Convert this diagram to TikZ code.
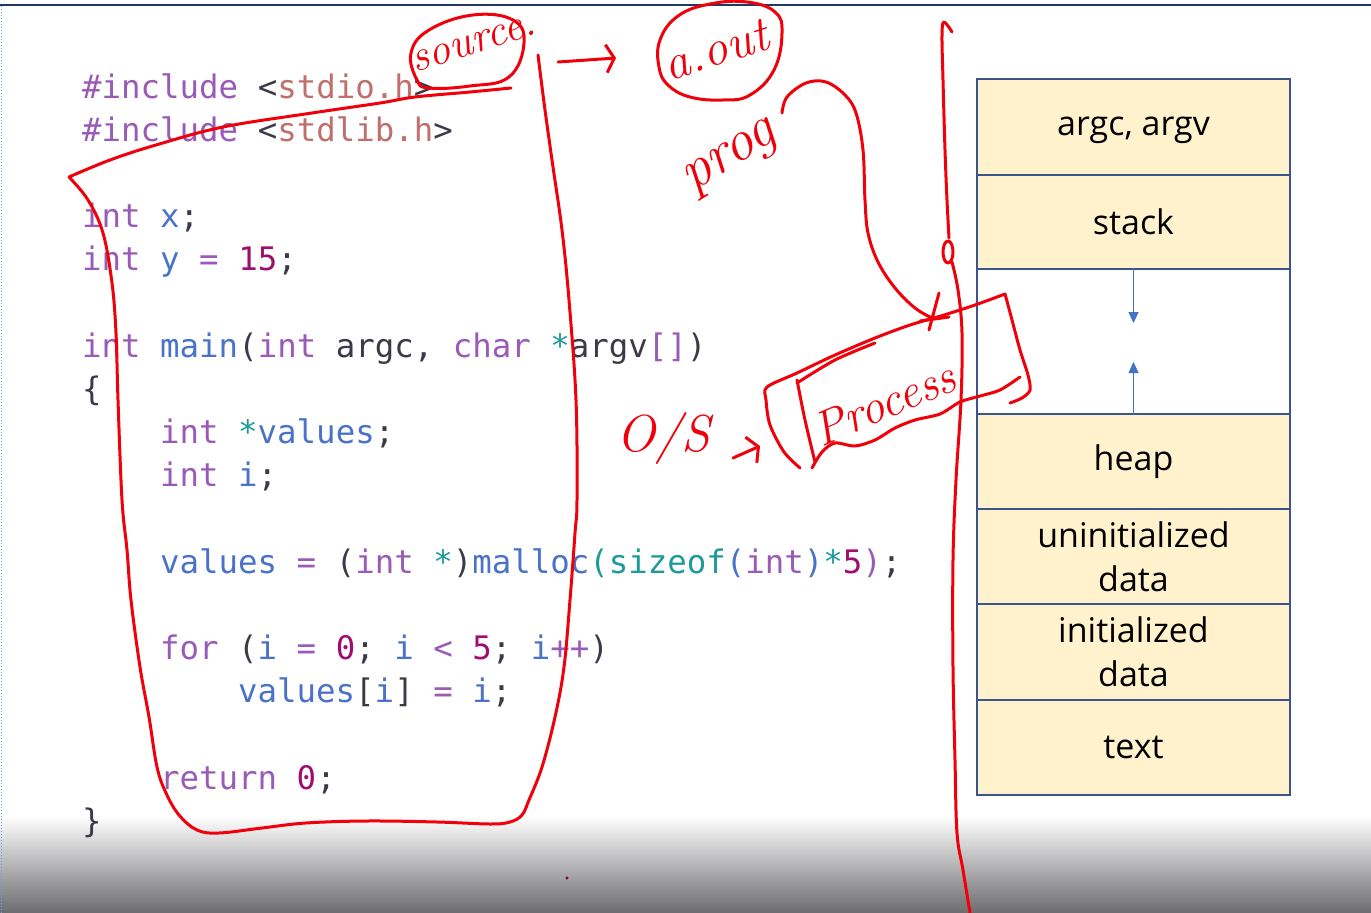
\documentclass[tikz,border=0pt]{standalone}
\usepackage{fontspec}
\setmonofont{DejaVu Sans Mono}
\setsansfont{Open Sans}
\usepackage{xcolor}
\usepackage{tikz}
\usetikzlibrary{arrows.meta}
\definecolor{topline}{HTML}{203864}
\definecolor{dotline}{HTML}{7A9CD6}
\definecolor{shadebot}{HTML}{6C6C70}
\definecolor{ckw}{HTML}{9A5AB8}
\definecolor{cid}{HTML}{4A72C8}
\definecolor{cnum}{HTML}{9E0E6E}
\definecolor{cop}{HTML}{1E9A9A}
\definecolor{cstr}{HTML}{C0706C}
\definecolor{cpl}{HTML}{3A3A48}
\definecolor{memedge}{HTML}{3B5588}
\definecolor{memfill}{HTML}{FFF2CC}
\definecolor{memarrowc}{HTML}{4472C4}
\definecolor{ink}{HTML}{F0000A}
\definecolor{inkdot}{HTML}{8A0020}
\newcommand{\kw}[1]{\textcolor{ckw}{#1}}
\newcommand{\id}[1]{\textcolor{cid}{#1}}
\newcommand{\num}[1]{\textcolor{cnum}{#1}}
\newcommand{\op}[1]{\textcolor{cop}{#1}}
\newcommand{\str}[1]{\textcolor{cstr}{#1}}
\newcommand{\pl}[1]{\textcolor{cpl}{#1}}
\tikzset{
  codeline/.style={anchor=base west, inner sep=0pt, font=\ttfamily\fontsize{32.4}{40}\selectfont},
  memcell/.style={draw=memedge, line width=2.6pt, fill=memfill, minimum width=313pt, inner sep=0pt,
    align=center, font=\sffamily\fontsize{34}{44}\selectfont},
  memgap/.style={memcell, fill=white},
  memarrow/.style={draw=memarrowc, line width=0.9pt, -{Triangle[length=11pt,width=10pt]}},
  ink/.style={draw=ink, line width=3pt, line cap=round, line join=round},
  inkarrow/.style={ink, -{Straight Barb[length=8pt,width=28pt,line width=3pt]}},
  hand/.style={text=ink, inner sep=0pt, font=\rmfamily\itshape\fontsize{#1}{#1}\selectfont},
}

\begin{document}
\begin{tikzpicture}[x=1pt,y=-1pt]
  \useasboundingbox (0,0) rectangle (1371,913);
  \fill[white] (0,0) rectangle (1371,913);
  \shade[top color=white, bottom color=shadebot] (0,816) rectangle (1371,913);
  \draw[topline, line width=2pt] (0,5) -- (1371,5);
  \draw[dotline, line width=1pt, dotted] (1.5,6) -- (1.5,913);

  % source code
  \node[codeline] (incl1) at (82,98) {\kw{\#include} \pl{<}\str{stdio.h}\pl{>}};
  \node[codeline] (incl2) at (82,141.2) {\kw{\#include} \pl{<}\str{stdlib.h}\pl{>}};
  \node[codeline] (declx) at (82,227.6) {\kw{int} \id{x}\pl{;}};
  \node[codeline] (decly) at (82,270.8) {\kw{int} \id{y} \kw{=} \num{15}\pl{;}};
  \node[codeline] (mainsig) at (82,357.2) {\kw{int} \id{main}\pl{(}\kw{int} \pl{argc,} \kw{char} \op{*}\pl{argv}\kw{[]}\pl{)}};
  \node[codeline] (mainopen) at (82,400.4) {\pl{\{}};
  \node[codeline] (declvals) at (160,443.6) {\kw{int} \op{*}\id{values}\pl{;}};
  \node[codeline] (decli) at (160,486.8) {\kw{int} \id{i}\pl{;}};
  \node[codeline] (mallocln) at (160,573.2) {\id{values} \kw{=} \pl{(}\kw{int} \op{*}\pl{)}\id{malloc}\op{(sizeof}\id{(}\kw{int}\id{)}\op{*}\num{5}\kw{)}\pl{;}};
  \node[codeline] (forln) at (160,659.6) {\kw{for} \pl{(}\id{i} \kw{=} \num{0}\pl{;} \id{i} \kw{<} \num{5}\pl{;} \id{i}\kw{++}\pl{)}};
  \node[codeline] (assignln) at (238,702.8) {\id{values}\pl{[}\id{i}\pl{]} \kw{=} \id{i}\pl{;}};
  \node[codeline] (retln) at (160,789.2) {\kw{return} \num{0}\pl{;}};
  \node[codeline] (mainclose) at (82,832.4) {\pl{\}}};

  % memory layout
  \node[memcell, minimum height=96pt] (args) at (1133.5,127) {\vphantom{k}argc, argv};
  \node[memcell, minimum height=94pt] (stack) at (1133.5,222) {stack};
  \node[memgap, minimum height=145pt] (gap) at (1133.5,341.5) {};
  \node[memcell, minimum height=95pt] (heap) at (1133.5,461.5) {heap};
  \node[memcell, minimum height=95pt] (bss) at (1133.5,556.5) {uninitialized\\data};
  \node[memcell, minimum height=96pt] (idata) at (1133.5,652) {initialized\\data};
  \node[memcell, minimum height=95pt] (textseg) at (1133.5,747.5) {text};
  \coordinate (stackgrow) at (1133.5,323);
  \coordinate (heapgrow) at (1133.5,362);
  \draw[memarrow] (gap.north) -- (stackgrow);
  \draw[memarrow] (gap.south) -- (heapgrow);

  % annotations
  \draw[ink] plot[smooth, tension=0.6] coordinates {(538,55) (545,110) (553,167) (562,230) (569,300)
    (576,400) (577,500) (575,533) (570,600) (564,667) (555,717) (542,767) (529,800) (522,815)
    (510,822) (490,824) (437,822) (367,821) (306,823) (262,828) (219,833) (197,830) (179,815)
    (166,793) (157,767) (149,717) (140,667) (131,600) (127,550) (122,500) (118,400) (116,333)
    (112,283) (103,233) (88,200) (69,177)}
    plot[smooth, tension=0.6] coordinates {(69,177) (110,160) (156,145) (223,127) (312,113)
    (380,103) (415,97) (470,92) (511,88)};
  \node[hand=44, rotate=18] (src) at (474,44) {source.};
  \draw[ink] plot[smooth cycle, tension=0.7] coordinates {(417,80) (411,53) (429,30) (473,15)
    (513,20) (524,43) (509,77) (470,86) (429,88)};
  \coordinate (srctail) at (558,62);
  \coordinate (srchead) at (616,58);
  \draw[inkarrow] (srctail) -- (srchead);

  \node[hand=50, rotate=18] (aout) at (716,50) {a.out};
  \draw[ink] plot[smooth cycle, tension=0.7] coordinates {(659,67) (660,40) (678,16) (710,4)
    (747,2) (775,12) (782,33) (774,70) (750,95) (723,100) (690,97) (668,85)};
  \node[hand=58, rotate=32] (prog) at (732,160) {prog};
  \draw[ink] plot[smooth, tension=0.6] coordinates {(782,113) (787,97) (806,83) (826,82) (845,95)
    (856,113) (863,150) (865,200) (868,233) (878,262) (895,288) (915,308) (932,318)};
  \draw[ink] (939,293) -- (929,330);
  \draw[ink] (920,321) -- (949,317);

  \draw[ink] plot[smooth, tension=0.6] coordinates {(952,32) (944,22) (942,35) (943,80) (945,150)
    (947,200) (949,238)};
  \draw[ink] (948,252) ellipse (5 and 11);
  \draw[ink] plot[smooth, tension=0.6] coordinates {(952,262) (958,290) (962,333) (961,400)
    (956,480) (953,560) (953,667) (955,760) (957,833) (963,870) (970,913)};

  \node[hand=52] (os) at (663,438) {O/S};
  \coordinate (ostail) at (733,458);
  \coordinate (oshead) at (760,446);
  \draw[inkarrow] (ostail) -- (oshead);

  \node[hand=48, rotate=23] (proc) at (884,403) {Process};
  \draw[ink] plot[smooth, tension=0.5] coordinates {(800,468) (784,452) (770,425) (766,400) (767,387)
    (797,373) (835,355) (875,338) (910,325) (944,315) (975,305) (1005,294)};
  \draw[ink] plot[smooth, tension=0.5] coordinates {(797,383) (835,360) (875,343)};
  \draw[ink] plot[smooth, tension=0.5] coordinates {(1005,294) (1008,305) (1012,320) (1020,350)
    (1028,375) (1030,390) (1022,398) (1010,403)};
  \draw[ink] plot[smooth, tension=0.5] coordinates {(797,380) (805,420) (815,462)};
  \draw[ink] plot[smooth, tension=0.5] coordinates {(812,468) (822,452) (835,443) (855,446) (875,440)
    (895,428) (915,420) (940,414) (960,402) (980,396) (1000,390) (1020,377)};

  \fill[inkdot] (567,878) circle (1.6);
\end{tikzpicture}
\end{document}
